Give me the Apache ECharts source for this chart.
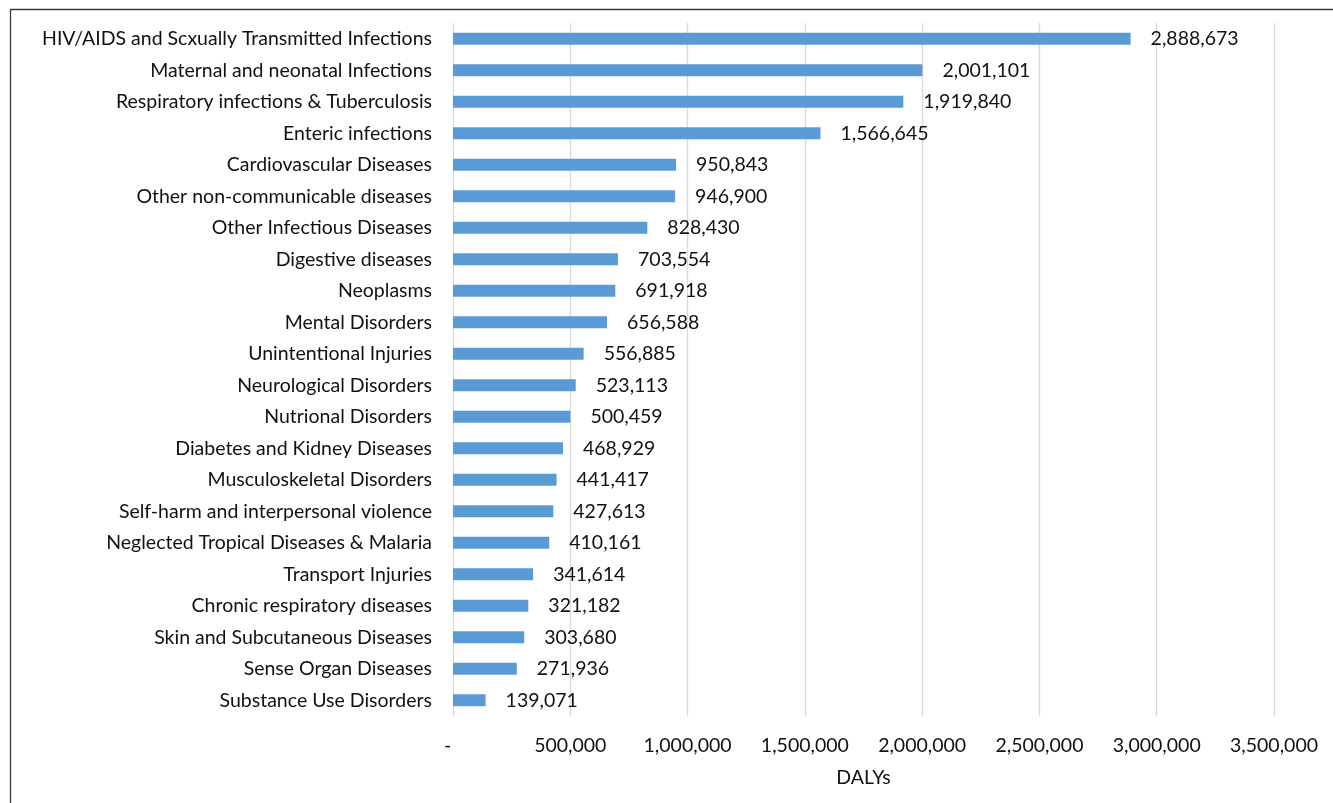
<!DOCTYPE html>
<html>
<head>
<meta charset="utf-8">
<title>DALYs by cause</title>
<script src="https://cdn.jsdelivr.net/npm/echarts@6/dist/echarts.min.js"></script>
<style>
  html, body { margin: 0; padding: 0; background: #ffffff; }
  #chart { width: 1333px; height: 803px; }
</style>
</head>
<body>
<div id="chart"></div>
<script>
// Causes, listed from largest to smallest burden
const causes = [
  'HIV/AIDS and Scxually Transmitted Infections',
  'Maternal and neonatal Infections',
  'Respiratory infections & Tuberculosis',
  'Enteric infections',
  'Cardiovascular Diseases',
  'Other non-communicable diseases',
  'Other Infectious Diseases',
  'Digestive diseases',
  'Neoplasms',
  'Mental Disorders',
  'Unintentional Injuries',
  'Neurological Disorders',
  'Nutrional Disorders',
  'Diabetes and Kidney Diseases',
  'Musculoskeletal Disorders',
  'Self-harm and interpersonal violence',
  'Neglected Tropical Diseases & Malaria',
  'Transport Injuries',
  'Chronic respiratory diseases',
  'Skin and Subcutaneous Diseases',
  'Sense Organ Diseases',
  'Substance Use Disorders'
];

// Disability-adjusted life years per cause
const dalys = [
  2888673, 2001101, 1919840, 1566645, 950843, 946900, 828430, 703554,
  691918, 656588, 556885, 523113, 500459, 468929, 441417, 427613,
  410161, 341614, 321182, 303680, 271936, 139071
];

// Value axis ticks
const axisMin = 0;
const axisMax = 3500000;
const axisStep = 500000;
const axisTitle = 'DALYs';

const fmt = v => v.toLocaleString('en-US');
const FONT = 'Lato';
const SIZE = 19.5;
const INK = '#111111';

const chart = echarts.init(document.getElementById('chart'), null, { renderer: 'canvas' });

chart.setOption({
  animation: false,
  backgroundColor: '#ffffff',
  textStyle: { fontFamily: FONT },
  graphic: [{
    type: 'rect',
    silent: true,
    shape: { x: 10.5, y: 9.5, width: 1400, height: 900 },
    style: { fill: 'none', stroke: '#3a3a3a', lineWidth: 1.3 }
  }],
  grid: { left: 453, right: 59, top: 23, bottom: 87, containLabel: false },
  xAxis: {
    type: 'value',
    min: axisMin,
    max: axisMax,
    interval: axisStep,
    name: axisTitle,
    nameLocation: 'middle',
    nameGap: 52,
    nameTextStyle: { fontFamily: FONT, fontSize: SIZE, color: INK },
    axisLine: { show: false },
    axisTick: { show: false },
    axisLabel: {
      margin: 20,
      fontFamily: FONT,
      fontSize: SIZE,
      color: INK,
      formatter: v => v === 0 ? '{dash|-}' : fmt(v),
      rich: { dash: { fontFamily: FONT, fontSize: SIZE, color: INK, padding: [0, 11, 0, 0] } }
    },
    splitLine: { show: true, lineStyle: { color: '#d9d9d9', width: 1.3 } }
  },
  yAxis: {
    type: 'category',
    data: causes,
    inverse: true,
    axisLine: { show: false },
    axisTick: { show: false },
    axisLabel: { margin: 21, fontFamily: FONT, fontSize: SIZE, color: INK },
    splitLine: { show: false }
  },
  series: [{
    type: 'bar',
    data: dalys,
    barWidth: 12,
    itemStyle: { color: '#5b9bd5' },
    label: {
      show: true,
      position: 'right',
      distance: 20,
      fontFamily: FONT,
      fontSize: SIZE,
      color: INK,
      formatter: p => fmt(p.value)
    }
  }]
});
</script>
</body>
</html>
